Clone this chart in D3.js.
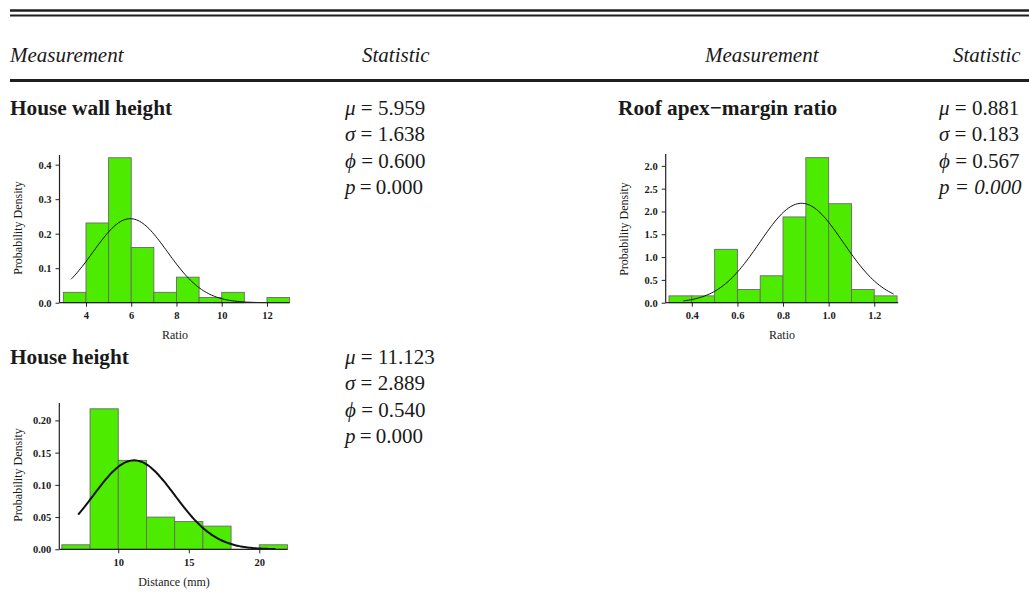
<!DOCTYPE html>
<html>
<head>
<meta charset="utf-8">
<script src="https://cdn.jsdelivr.net/npm/d3@7"></script>
<style>
  html, body { margin: 0; padding: 0; background: #fff; }
  svg { display: block; }
  text { font-family: "Liberation Serif", "Times New Roman", serif; fill: #1a1a1a; }
</style>
</head>
<body>
<svg id="chart" width="1029" height="604"></svg>
<script>
// ---- Table data ----
const headers = ["Measurement", "Statistic", "Measurement", "Statistic"];
const measurements = ["House wall height", "Roof apex\u2212margin ratio", "House height"];
const mus = [5.959, 0.881, 11.123];
const sigmas = [1.638, 0.183, 2.889];
const phis = [0.600, 0.567, 0.540];
const pValues = [0.000, 0.000, 0.000];

// ---- Histogram data (bin start, density) ----
const wallBinStarts = [3, 4, 5, 6, 7, 8, 9, 10, 11, 12];
const wallDensity = [0.030, 0.231, 0.420, 0.160, 0.030, 0.074, 0.015, 0.030, 0.000, 0.015];
const wallBinWidth = 1;

const roofBinStarts = [0.3, 0.4, 0.5, 0.6, 0.7, 0.8, 0.9, 1.0, 1.1, 1.2];
const roofDensity = [0.15, 0.15, 1.17, 0.29, 0.59, 1.88, 3.18, 2.17, 0.29, 0.15];
const roofBinWidth = 0.1;

const heightBinStarts = [6, 8, 10, 12, 14, 16, 18, 20];
const heightDensity = [0.007, 0.218, 0.138, 0.050, 0.043, 0.036, 0.000, 0.007];
const heightBinWidth = 2;

// ---- Axis ticks and labels ----
const wallXTicks = [4, 6, 8, 10, 12];
const wallYTicks = [0, 0.1, 0.2, 0.3, 0.4];
const wallYLabels = ["0.0", "0.1", "0.2", "0.3", "0.4"];

const roofXTicks = [0.4, 0.6, 0.8, 1.0, 1.2];
const roofYTicks = [0, 0.5, 1.0, 1.5, 2.0, 2.5, 3.0];
const roofYLabels = ["0.0", "0.5", "1.0", "1.5", "2.0", "2.5", "2.0"];

const heightXTicks = [10, 15, 20];
const heightYTicks = [0, 0.05, 0.10, 0.15, 0.20];
const heightYLabels = ["0.00", "0.05", "0.10", "0.15", "0.20"];

// Fitted-normal curve extents along x
const wallCurveRange = [3.34, 12.0];
const roofCurveRange = [0.363, 1.285];
const heightCurveRange = [7.16, 21.15];

const svg = d3.select("#chart");
const ink = "#1f1f1f";

// ---- Table rules ----
const rules = [
  { y: 10.5, w: 2.6 },
  { y: 15.5, w: 2.2 },
  { y: 80.5, w: 2.8 }
];
svg.selectAll("line.rule").data(rules).join("line")
  .attr("class", "rule")
  .attr("x1", 10).attr("x2", 1029)
  .attr("y1", d => d.y).attr("y2", d => d.y)
  .attr("stroke", ink).attr("stroke-width", d => d.w);

// ---- Header ----
const headerX = [10, 362, 705, 953];
svg.selectAll("text.hdr").data(headers).join("text")
  .attr("class", "hdr")
  .attr("x", (d, i) => headerX[i]).attr("y", 62)
  .attr("font-size", 21).attr("font-style", "italic")
  .text(d => d);

// ---- Row titles ----
const titlePos = [[10, 115], [618, 115], [10, 364]];
svg.selectAll("text.title").data(measurements).join("text")
  .attr("class", "title")
  .attr("x", (d, i) => titlePos[i][0]).attr("y", (d, i) => titlePos[i][1])
  .attr("font-size", 21.3).attr("font-weight", "bold")
  .text(d => d);

// ---- Statistics blocks ----
const statPos = [[345, 115], [939, 115], [345, 364]];
const fmt3 = d3.format(".3f");
function statBlock(i, pItalic) {
  const [x, y0] = statPos[i];
  const sp = "\u2005";
  const rows = [
    { sym: "\u03BC", sep: sp + "=" + sp, val: fmt3(mus[i]), italicAll: false },
    { sym: "\u03C3", sep: sp + "=" + sp, val: fmt3(sigmas[i]), italicAll: false },
    { sym: "\u03D5", sep: sp + "=" + sp, val: fmt3(phis[i]), italicAll: false },
    { sym: "p", sep: pItalic ? sp + "=" + sp : "\u2009=\u2009", val: fmt3(pValues[i]), italicAll: pItalic }
  ];
  rows.forEach((r, k) => {
    const t = svg.append("text")
      .attr("x", x).attr("y", y0 + k * 26.3)
      .attr("font-size", 21);
    t.append("tspan").attr("font-style", "italic").text(r.sym);
    t.append("tspan").attr("font-style", r.italicAll ? "italic" : "normal").text(r.sep + r.val);
  });
}
statBlock(0, false);
statBlock(1, true);
statBlock(2, false);

// ---- Histogram panels ----
function normalPdf(x, mu, sigma) {
  const z = (x - mu) / sigma;
  return Math.exp(-0.5 * z * z) / (sigma * Math.sqrt(2 * Math.PI));
}

function histogram(cfg) {
  const g = svg.append("g");
  const x = d3.scaleLinear().domain(cfg.xDomain).range(cfg.xRange);
  const y = d3.scaleLinear().domain(cfg.yDomain).range(cfg.yRange);

  // bars
  g.selectAll("rect").data(cfg.starts).join("rect")
    .attr("x", d => x(d))
    .attr("width", d => x(d + cfg.binWidth) - x(d))
    .attr("y", (d, i) => y(cfg.density[i]))
    .attr("height", (d, i) => y(0) - y(cfg.density[i]))
    .attr("fill", "#4ceb00")
    .attr("stroke", "#6a6a6a")
    .attr("stroke-width", 0.9);

  // fitted normal curve
  const n = 120;
  const pts = d3.range(n + 1).map(k => {
    const xv = cfg.curveRange[0] + (cfg.curveRange[1] - cfg.curveRange[0]) * k / n;
    return [xv, normalPdf(xv, cfg.mu, cfg.sigma)];
  });
  g.append("path")
    .datum(pts)
    .attr("fill", "none")
    .attr("stroke", "#111")
    .attr("stroke-width", cfg.curveWidth)
    .attr("d", d3.line().curve(d3.curveBasis).x(d => x(d[0])).y(d => y(d[1])));

  // axes
  const xAxis = d3.axisBottom(x).tickValues(cfg.xTicks).tickSize(4).tickPadding(5)
    .tickFormat(cfg.xFormat);
  const yAxis = d3.axisLeft(y).tickValues(cfg.yTicks).tickSize(4).tickPadding(4)
    .tickFormat((d, i) => cfg.yLabels[i]);

  const gx = g.append("g").attr("transform", `translate(0,${cfg.yRange[0]})`).call(xAxis);
  const gy = g.append("g").attr("transform", `translate(${cfg.xRange[0]},0)`).call(yAxis);
  [gx, gy].forEach(a => {
    a.select(".domain").attr("stroke", "#222").attr("stroke-width", 1.2);
    a.selectAll(".tick line").attr("stroke", "#222").attr("stroke-width", 1);
    a.selectAll(".tick text")
      .attr("font-family", "'Liberation Serif', 'Times New Roman', serif")
      .attr("font-size", 10.5).attr("font-weight", "bold").attr("fill", "#1a1a1a");
  });
  // flat axis lines without end caps
  gx.select(".domain").attr("d", `M${cfg.xRange[0]},0H${cfg.xRange[1]}`);
  gy.select(".domain").attr("d", `M0,${cfg.yRange[0]}V${cfg.yRange[1]}`);

  // axis titles
  g.append("text")
    .attr("x", cfg.xTitlePos[0]).attr("y", cfg.xTitlePos[1])
    .attr("text-anchor", "middle").attr("font-size", 12)
    .text(cfg.xTitle);
  g.append("text")
    .attr("transform", `translate(${cfg.yTitlePos[0]},${cfg.yTitlePos[1]}) rotate(-90)`)
    .attr("text-anchor", "middle").attr("font-size", 12)
    .text("Probability Density");
}

histogram({
  starts: wallBinStarts, density: wallDensity, binWidth: wallBinWidth,
  mu: mus[0], sigma: sigmas[0], curveRange: wallCurveRange, curveWidth: 1,
  xDomain: [2.83, 13], xRange: [59.5, 289.6],
  yDomain: [0, 0.428], yRange: [302.7, 155],
  xTicks: wallXTicks, xFormat: d3.format("d"),
  yTicks: wallYTicks, yLabels: wallYLabels,
  xTitle: "Ratio", xTitlePos: [175, 339],
  yTitlePos: [22, 228]
});

histogram({
  starts: roofBinStarts, density: roofDensity, binWidth: roofBinWidth,
  mu: mus[1], sigma: sigmas[1], curveRange: roofCurveRange, curveWidth: 1,
  xDomain: [0.2855, 1.305], xRange: [665.7, 898.2],
  yDomain: [0, 3.26], yRange: [302.7, 154],
  xTicks: roofXTicks, xFormat: d3.format(".1f"),
  yTicks: roofYTicks, yLabels: roofYLabels,
  xTitle: "Ratio", xTitlePos: [782, 339],
  yTitlePos: [628, 229]
});

histogram({
  starts: heightBinStarts, density: heightDensity, binWidth: heightBinWidth,
  mu: mus[2], sigma: sigmas[2], curveRange: heightCurveRange, curveWidth: 2,
  xDomain: [5.82, 22], xRange: [59.3, 287.5],
  yDomain: [0, 0.227], yRange: [549.3, 403],
  xTicks: heightXTicks, xFormat: d3.format("d"),
  yTicks: heightYTicks, yLabels: heightYLabels,
  xTitle: "Distance (mm)", xTitlePos: [174, 586],
  yTitlePos: [22, 475]
});
</script>
</body>
</html>
